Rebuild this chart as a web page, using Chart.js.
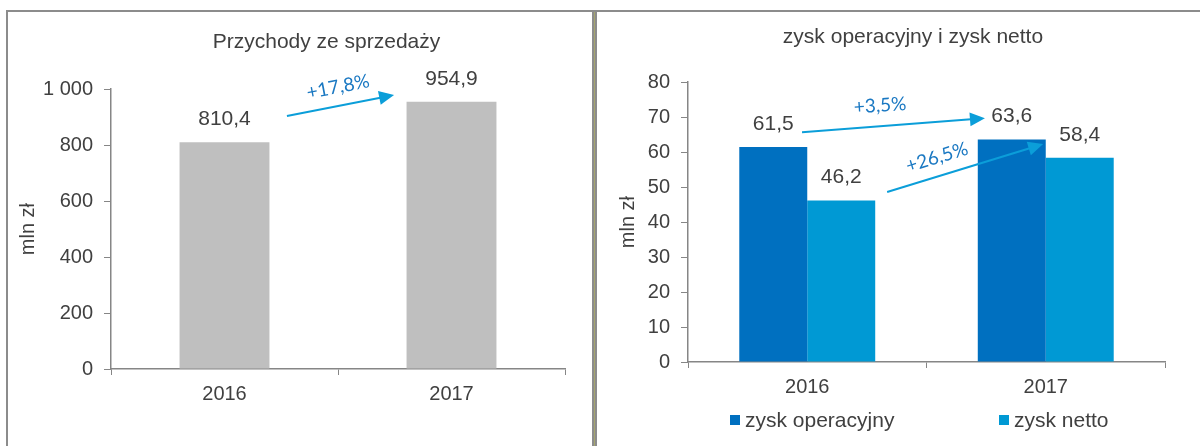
<!DOCTYPE html>
<html><head><meta charset="utf-8">
<script src="https://cdn.jsdelivr.net/npm/chart.js@4.4.1/dist/chart.umd.min.js"></script>
<style>
html,body{margin:0;padding:0;background:#fff;width:1200px;height:446px;overflow:hidden;position:relative}
.ln{position:absolute;background:#8c8c8c}
.cv{position:absolute}
canvas{display:block}
</style></head><body>
<div class="ln" style="left:6px;top:10px;width:1194px;height:2px"></div>
<div class="ln" style="left:6px;top:10px;width:2px;height:436px"></div>
<div class="ln" style="left:592px;top:10px;width:5px;height:436px"></div>
<div class="ln" style="left:594px;top:12px;width:1px;height:434px;background:#a5a56e"></div>
<div class="cv" style="left:8px;top:12px;width:584px;height:434px"><canvas id="c1" width="584" height="434"></canvas></div>
<div class="cv" style="left:597px;top:12px;width:603px;height:434px"><canvas id="c2" width="603" height="434"></canvas></div>
<script>
// ---- data ----
const years = ['2016', '2017'];
const revenue = [810.4, 954.9];
const operatingProfit = [61.5, 63.6];
const netProfit = [46.2, 58.4];
const revenueTicks = ['0', '200', '400', '600', '800', '1 000'];
const profitTicks = ['0', '10', '20', '30', '40', '50', '60', '70', '80'];
const seriesNames = ['zysk operacyjny', 'zysk netto'];
const revenueGrowth = ['+17,8%'];
const profitGrowth = ['+3,5%', '+26,5%'];
const titles = ['Przychody ze sprzedaży', 'zysk operacyjny i zysk netto'];
const unitLabel = 'mln zł';

// ---- styling ----
const TEXT = '#404040';
const AXIS = '#868686';
const FONT = '"Liberation Sans", Arial, sans-serif';
Chart.defaults.font.family = FONT;
Chart.defaults.color = TEXT;

const fmt = v => v.toFixed(1).replace('.', ',');

const valueLabels = {
  id: 'valueLabels',
  afterDatasetsDraw(chart) {
    const ctx = chart.ctx;
    ctx.save();
    ctx.font = '21px ' + FONT;
    ctx.fillStyle = TEXT;
    ctx.textAlign = 'center';
    ctx.textBaseline = 'middle';
    chart.data.datasets.forEach((ds, di) => {
      chart.getDatasetMeta(di).data.forEach((el, i) => {
        ctx.fillText(fmt(ds.data[i]), el.x, el.y - 23);
      });
    });
    ctx.restore();
  }
};

const growthArrows = {
  id: 'growthArrows',
  afterDatasetsDraw(chart, args, opts) {
    const {ctx, scales: {x, y}} = chart;
    const c0 = x.getPixelForValue(0), cw = x.getPixelForValue(1) - c0;
    const px = i => c0 + i * cw;
    (opts.items || []).forEach(it => {
      const x1 = px(it.from[0]), y1 = y.getPixelForValue(it.from[1]);
      const x2 = px(it.to[0]), y2 = y.getPixelForValue(it.to[1]);
      const ang = Math.atan2(y2 - y1, x2 - x1);
      const head = 15, hw = 7;
      const bx = x2 - head * Math.cos(ang), by = y2 - head * Math.sin(ang);
      ctx.save();
      ctx.strokeStyle = opts.color; ctx.lineWidth = 2;
      ctx.beginPath(); ctx.moveTo(x1, y1); ctx.lineTo(bx + Math.cos(ang), by + Math.sin(ang)); ctx.stroke();
      ctx.fillStyle = opts.color;
      ctx.beginPath(); ctx.moveTo(x2, y2);
      ctx.lineTo(bx + hw * Math.sin(ang), by - hw * Math.cos(ang));
      ctx.lineTo(bx - hw * Math.sin(ang), by + hw * Math.cos(ang));
      ctx.closePath(); ctx.fill();
      const lx = px(it.at[0]), ly = y.getPixelForValue(it.at[1]);
      ctx.translate(lx, ly); ctx.rotate(it.angle * Math.PI / 180);
      ctx.font = '19px Lato, "Open Sans", sans-serif';
      ctx.fillStyle = opts.textColor;
      ctx.textAlign = 'center'; ctx.textBaseline = 'middle';
      ctx.fillText(it.label, 0, 0);
      ctx.restore();
    });
  }
};

const bottomLegend = {
  id: 'bottomLegend',
  afterDraw(chart, args, opts) {
    if (!opts.offsets) return;
    const {ctx, chartArea} = chart;
    const cx = (chartArea.left + chartArea.right) / 2;
    const cy = chartArea.bottom + opts.dy;
    ctx.save();
    ctx.font = '21px ' + FONT;
    ctx.textBaseline = 'middle';
    ctx.textAlign = 'left';
    chart.data.datasets.forEach((ds, i) => {
      const bx = cx + opts.offsets[i];
      ctx.fillStyle = ds.backgroundColor;
      ctx.fillRect(bx, cy - 5, 10, 10);
      ctx.fillStyle = TEXT;
      ctx.fillText(ds.label, bx + 15, cy + 1);
    });
    ctx.restore();
  }
};

// shifts the library's own title block horizontally after layout
const titleShift = {
  id: 'titleShift',
  afterLayout(chart, args, opts) {
    const t = chart.titleBlock;
    if (t && opts.dx) { t.left += opts.dx; t.right += opts.dx; }
  }
};

function axes(yMax, step, tickLabels, titlePadTop, yWidth, xHeight) {
  return {
    y: {
      min: 0, max: yMax,
      ticks: {stepSize: step, padding: 11, font: {size: 20}, color: TEXT,
              callback: (v, i) => tickLabels[i]},
      grid: {drawOnChartArea: false, drawTicks: true, tickLength: 7, color: AXIS, lineWidth: 1},
      border: {display: true, color: AXIS, width: 1.5},
      title: {display: true, text: unitLabel, font: {size: 20}, color: TEXT,
              padding: {top: titlePadTop, bottom: 0}},
      afterFit(s) { s.width = yWidth; }
    },
    x: {
      ticks: {padding: 7, font: {size: 20}, color: TEXT},
      grid: {drawOnChartArea: false, drawTicks: true, tickLength: 6, color: AXIS, offset: true},
      border: {display: true, color: AXIS, width: 1.5},
      afterFit(s) { s.height = xHeight; }
    }
  };
}

new Chart(document.getElementById('c1'), {
  type: 'bar',
  data: {
    labels: years,
    datasets: [{label: 'Przychody', data: revenue, backgroundColor: '#BFBFBF',
                barPercentage: 0.396, categoryPercentage: 1}]
  },
  options: {
    responsive: false, animation: false, devicePixelRatio: 1,
    layout: {padding: {left: 0, right: 27, top: 0, bottom: 0}},
    scales: axes(1000, 200, revenueTicks, 8, 103, 77),
    plugins: {
      legend: {display: false}, tooltip: {enabled: false},
      title: {display: true, text: titles[0], color: TEXT,
              font: {size: 21, weight: 'normal'}, padding: {top: 18, bottom: 34}},
      titleShift: {dx: 40},
      growthArrows: {color: '#0B9ED9', textColor: '#1A78C2', items: [
        {from: [0.275, 904], to: [0.747, 979], at: [0.5, 1008], angle: -11, label: revenueGrowth[0]}
      ]}
    }
  },
  plugins: [valueLabels, growthArrows, titleShift]
});

new Chart(document.getElementById('c2'), {
  type: 'bar',
  data: {
    labels: years,
    datasets: [
      {label: seriesNames[0], data: operatingProfit, backgroundColor: '#0070C0',
       barPercentage: 1, categoryPercentage: 0.57},
      {label: seriesNames[1], data: netProfit, backgroundColor: '#0099D4',
       barPercentage: 1, categoryPercentage: 0.57}
    ]
  },
  options: {
    responsive: false, animation: false, devicePixelRatio: 1,
    layout: {padding: {left: 0, right: 35, top: 0, bottom: 0}},
    scales: axes(80, 10, profitTicks, 19.5, 91, 84),
    plugins: {
      legend: {display: false}, tooltip: {enabled: false},
      title: {display: true, text: titles[1], color: TEXT,
              font: {size: 21, weight: 'normal'}, padding: {top: 13, bottom: 32}},
      titleShift: {dx: 32},
      growthArrows: {color: '#0B9ED9', textColor: '#1A78C2', items: [
        {from: [-0.022, 65.7], to: [0.745, 69.7], at: [0.305, 73.3], angle: -4, label: profitGrowth[0]},
        {from: [0.335, 48.6], to: [0.989, 62.3], at: [0.544, 58.5], angle: -17, label: profitGrowth[1]}
      ]},
      bottomLegend: {offsets: [-196.5, 72.5], dy: 58}
    }
  },
  plugins: [valueLabels, growthArrows, bottomLegend, titleShift]
});
</script>
</body></html>
